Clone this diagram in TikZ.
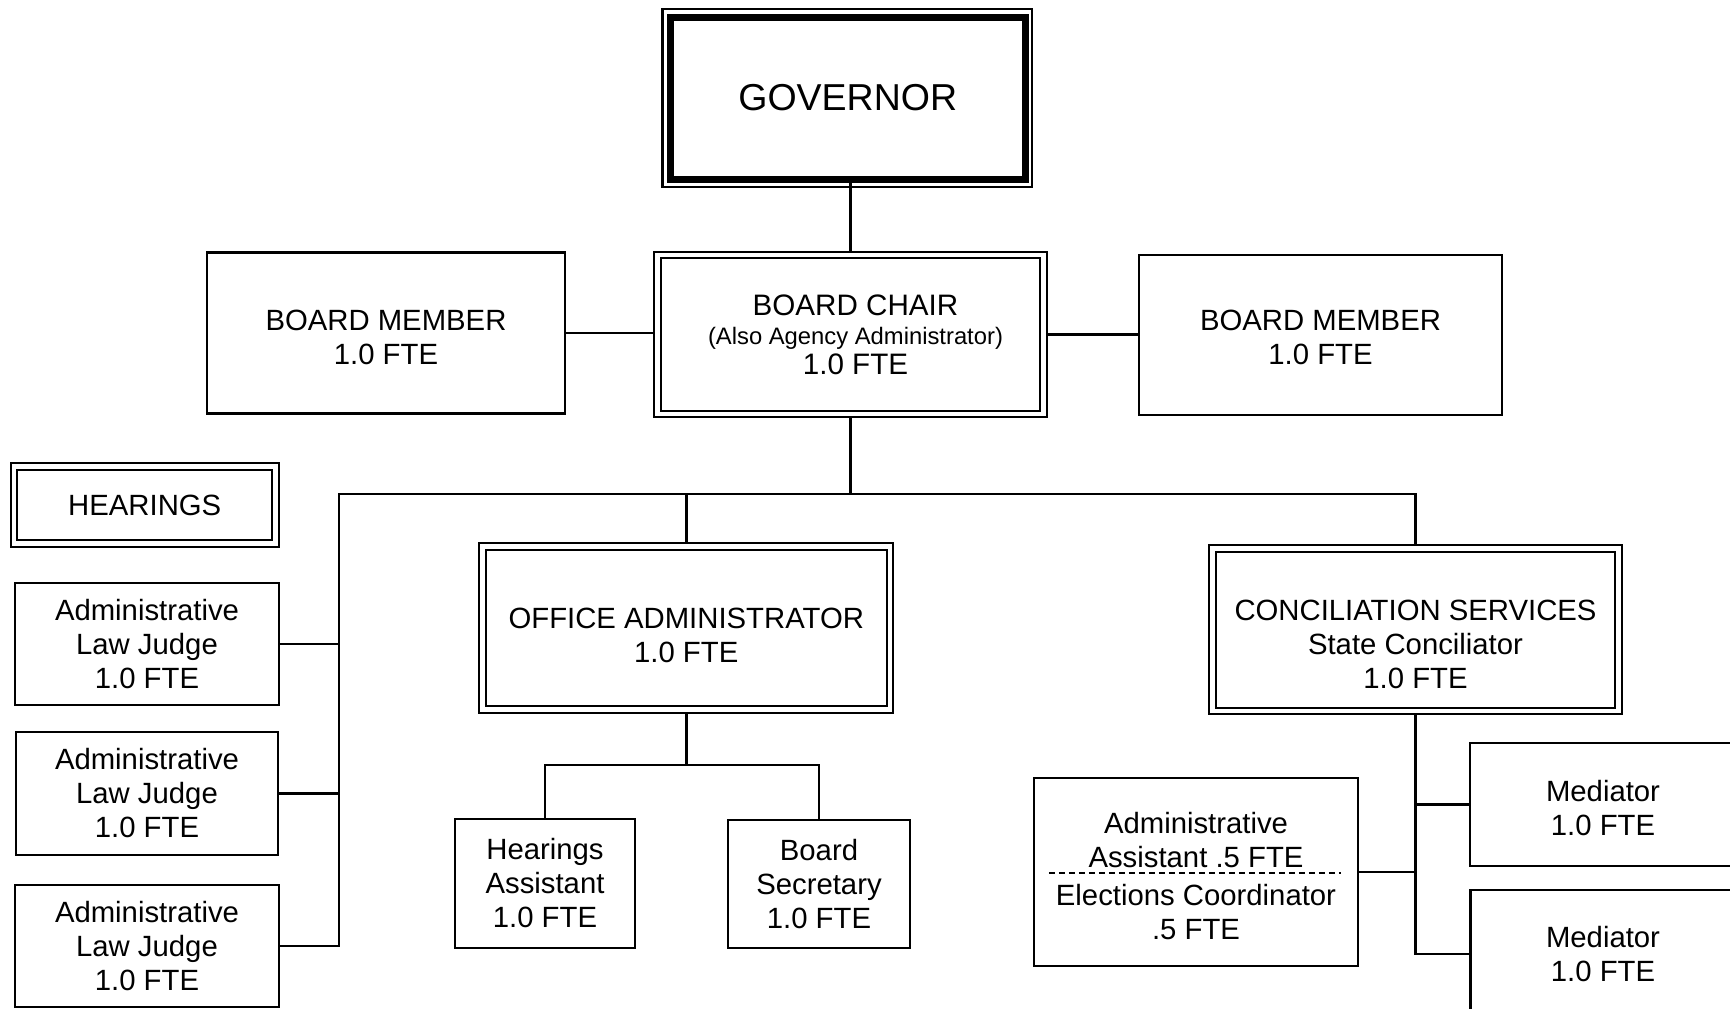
\documentclass[tikz,border=0pt]{standalone}
\usepackage{fontspec}
\setmainfont{Liberation Sans}
\usetikzlibrary{backgrounds}
\newcommand\mainf{\fontsize{29.3}{34}\selectfont}
\newcommand\dn[1]{\rule{0pt}{#1}}
\begin{document}
\begin{tikzpicture}[x=1pt,y=1pt,
  box/.style={draw, line width=2.5pt, fill=white, inner sep=0pt, align=center, font=\mainf},
  dbox/.style={box, double, double distance=4.3pt, line width=2pt},
  link/.style={line width=2.5pt, line cap=rect},
]
\useasboundingbox (0,0) rectangle (1730,-1009);
\clip (0,0) rectangle (1730,-1009);

% Governor
\node[draw, line width=7pt, fill=white, inner sep=0pt, outer sep=0pt,
      minimum width=354.5pt, minimum height=162pt,
      font=\fontsize{37.5}{46}\selectfont] (gov) at (847.75,-98) {GOVERNOR};
\draw[line width=2.3pt] ([shift={(-8,8)}]gov.north west) rectangle ([shift={(7,-8)}]gov.south east);

% Board level
\node[dbox, minimum width=386pt, minimum height=159pt,
      font=\fontsize{29.6}{29.5}\selectfont] (chair) at (850.5,-334.5)
  {\hspace*{10pt}BOARD CHAIR\\\hspace*{10pt}{\fontsize{23.8}{29.5}\selectfont (Also Agency Administrator)}\\\hspace*{10pt}1.0 FTE};
\node[box, minimum width=358pt, minimum height=161pt] (bml) at (386,-333)
  {\dn{29pt}BOARD MEMBER\\1.0 FTE};
\node[box, minimum width=363pt, minimum height=160pt] (bmr) at (1320.5,-335)
  {\dn{26pt}BOARD MEMBER\\1.0 FTE};

% Hearings
\node[dbox, minimum width=261.5pt, minimum height=77pt] (hear) at (144.75,-505) {HEARINGS};
\node[box, minimum width=264pt, minimum height=122pt] (alj1) at (147,-644)
  {Administrative\\Law Judge\\1.0 FTE};
\node[box, minimum width=262pt, minimum height=123pt] (alj2) at (147,-793.5)
  {Administrative\\Law Judge\\1.0 FTE};
\node[box, minimum width=264pt, minimum height=122pt] (alj3) at (147,-946)
  {Administrative\\Law Judge\\1.0 FTE};

% Office administrator
\node[dbox, minimum width=407.5pt, minimum height=163pt] (office) at (686.25,-628)
  {\dn{35pt}OFFICE ADMINISTRATOR\\1.0 FTE};
\node[box, minimum width=180pt, minimum height=129pt] (ha) at (545,-883.5)
  {Hearings\\Assistant\\1.0 FTE};
\node[box, minimum width=182pt, minimum height=128pt] (bs) at (819,-884)
  {Board\\Secretary\\1.0 FTE};

% Conciliation
\node[dbox, minimum width=406pt, minimum height=162.5pt] (concil) at (1415.5,-629.75)
  {\dn{49pt}CONCILIATION SERVICES\\State Conciliator\\1.0 FTE};
\node[box, minimum width=324pt, minimum height=188pt] (admin) at (1196,-872)
  {\dn{29.4pt}Administrative\\Assistant .5 FTE\\[4pt]Elections Coordinator\\.5 FTE};
\draw[line width=1.6pt, dash pattern=on 6pt off 4pt]
  ([xshift=16pt,yshift=-1pt]admin.west) -- ([xshift=-18pt,yshift=-1pt]admin.east);
\node[box, minimum width=266pt, minimum height=123pt] (med1) at (1603,-804.5)
  {\dn{28.4pt}Mediator\\1.0 FTE};
\node[box, minimum width=265pt, minimum height=128pt] (med2) at (1603,-954)
  {Mediator\\1.0 FTE};

\coordinate (busL) at (339,-494);
\coordinate (busR) at (1416,-494);
\coordinate (obus) at (686,-765);

\begin{pgfonlayer}{background}
\fill[white] (0,0) rectangle (1730,-1009);
\draw[link] (chair.north) -- (chair.north |- gov.south);
\draw[link] (bml.east) -- (bml.east -| chair.west);
\draw[link] (chair.east) -- (chair.east -| bmr.west);
\draw[link] (chair.south) -- (chair.south |- busL);
\draw[link] (busL) -- (busR);
\draw[link] (office.north) -- (office.north |- busL);
\draw[link] (concil.north) -- (concil.north |- busR);
\draw[link] (busL) -- (busL |- alj3.east);
\foreach \n in {alj1,alj2,alj3} \draw[link] (\n.east) -- (\n.east -| busL);
\draw[link] (office.south) -- (office.south |- obus);
\draw[link] (obus -| ha.north) -- (obus -| bs.north);
\draw[link] (ha.north) -- (ha.north |- obus);
\draw[link] (bs.north) -- (bs.north |- obus);
\draw[link] (concil.south) -- (concil.south |- med2.west);
\draw[link] (med1.west) -- (med1.west -| concil.south);
\draw[link] (med2.west) -- (med2.west -| concil.south);
\draw[link] (admin.east) -- (admin.east -| concil.south);
\end{pgfonlayer}
\end{tikzpicture}
\end{document}
